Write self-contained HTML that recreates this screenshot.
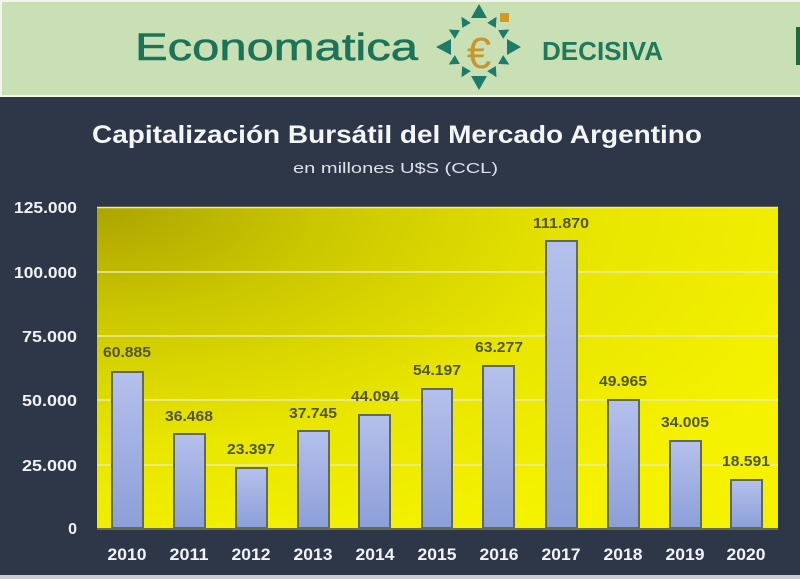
<!DOCTYPE html>
<html><head><meta charset="utf-8"><style>
html,body{margin:0;padding:0;background:#2e3748;}
svg{display:block;}
</style></head><body>
<svg width="800" height="579" viewBox="0 0 800 579" xmlns="http://www.w3.org/2000/svg" font-family="'Liberation Sans', sans-serif">
<defs>
<radialGradient id="pg" cx="0" cy="0" r="1.15" fx="0" fy="0">
<stop offset="0" stop-color="#aba500"/>
<stop offset="0.3" stop-color="#ccc800"/>
<stop offset="0.65" stop-color="#e9e600"/>
<stop offset="1" stop-color="#f5f200"/>
</radialGradient>
<linearGradient id="bg" x1="0" y1="0" x2="0" y2="1">
<stop offset="0" stop-color="#b5c0ec"/>
<stop offset="1" stop-color="#8c9fd9"/>
</linearGradient>
</defs>
<!-- banner -->
<rect x="0" y="0" width="800" height="97" fill="#f2f5ee"/>
<rect x="2" y="2" width="798" height="93" fill="#c8e0b3"/>
<rect x="796" y="27" width="4" height="38" fill="#1f6a3a"/>
<text x="135" y="60" font-size="38" fill="#1b7358" stroke="#1b7358" stroke-width="0.6" textLength="283" lengthAdjust="spacingAndGlyphs">Economatica</text>
<text x="542" y="60" font-size="26" font-weight="bold" fill="#1f7a5c" textLength="121" lengthAdjust="spacingAndGlyphs">DECISIVA</text>
<!-- logo -->
<g fill="#1e7a6a">
<polygon points="471,18 487,18 479,4"/>
<polygon points="471,76 487,76 479,90"/>
<polygon points="451,39 451,55 436,47"/>
<polygon points="507,39 507,55 521,47"/>
<g transform="translate(479,47)">
<polygon points="-5,-25 5,-25 0,-35" transform="rotate(30)"/>
<polygon points="-5,-25 5,-25 0,-35" transform="rotate(60)"/>
<polygon points="-5,-25 5,-25 0,-35" transform="rotate(120)"/>
<polygon points="-5,-25 5,-25 0,-35" transform="rotate(150)"/>
<polygon points="-5,-25 5,-25 0,-35" transform="rotate(210)"/>
<polygon points="-5,-25 5,-25 0,-35" transform="rotate(240)"/>
<polygon points="-5,-25 5,-25 0,-35" transform="rotate(300)"/>
<polygon points="-5,-25 5,-25 0,-35" transform="rotate(330)"/>
</g>
</g>
<rect x="500" y="13" width="9" height="9" fill="#d39a22"/>
<text x="479" y="68" font-size="44" fill="#c8962a" text-anchor="middle" font-family="'Liberation Sans', sans-serif">€</text>
<!-- dark area -->
<rect x="0" y="97" width="800" height="478" fill="#2e3748"/>
<rect x="0" y="575" width="800" height="4" fill="#c9ccd2"/>
<text x="92" y="143" font-size="25" font-weight="bold" fill="#f4f5f7" textLength="610" lengthAdjust="spacingAndGlyphs">Capitalización Bursátil del Mercado Argentino</text>
<text x="293" y="173" font-size="15" fill="#dde1e8" textLength="205" lengthAdjust="spacingAndGlyphs">en millones U$S (CCL)</text>
<!-- plot -->
<rect x="97" y="207" width="681" height="321" fill="url(#pg)"/>
<g stroke="#ecec9a" stroke-width="1.5">
<line x1="97" y1="207.5" x2="778" y2="207.5"/>
<line x1="97" y1="272" x2="778" y2="272"/>
<line x1="97" y1="336" x2="778" y2="336"/>
<line x1="97" y1="400" x2="778" y2="400"/>
<line x1="97" y1="465" x2="778" y2="465"/>
</g>
<line x1="97" y1="529" x2="778" y2="529" stroke="#6b6e4a" stroke-width="2"/>
<!-- y labels -->
<g font-size="16" font-weight="bold" fill="#f0f2f5" text-anchor="end">
<text x="77" y="213" textLength="63" lengthAdjust="spacingAndGlyphs">125.000</text>
<text x="77" y="278" textLength="63" lengthAdjust="spacingAndGlyphs">100.000</text>
<text x="77" y="342" textLength="55" lengthAdjust="spacingAndGlyphs">75.000</text>
<text x="77" y="406" textLength="55" lengthAdjust="spacingAndGlyphs">50.000</text>
<text x="77" y="471" textLength="55" lengthAdjust="spacingAndGlyphs">25.000</text>
<text x="77" y="534">0</text>
</g>
<!-- bars -->
<g fill="url(#bg)" stroke="#5f6a58" stroke-width="2">
<rect x="112" y="372" width="31" height="156"/>
<rect x="174" y="434" width="31" height="94"/>
<rect x="236" y="468" width="31" height="60"/>
<rect x="298" y="431" width="31" height="97"/>
<rect x="359" y="415" width="31" height="113"/>
<rect x="422" y="389" width="30" height="139"/>
<rect x="483" y="366" width="31" height="162"/>
<rect x="546" y="241" width="31" height="287"/>
<rect x="608" y="400" width="31" height="128"/>
<rect x="670" y="441" width="31" height="87"/>
<rect x="731" y="480" width="31" height="48"/>
</g>
<!-- value labels -->
<g font-size="15" font-weight="bold" fill="#525630" text-anchor="middle">
<text x="127" y="357" textLength="48" lengthAdjust="spacingAndGlyphs">60.885</text>
<text x="189" y="421" textLength="48" lengthAdjust="spacingAndGlyphs">36.468</text>
<text x="251" y="454" textLength="48" lengthAdjust="spacingAndGlyphs">23.397</text>
<text x="313" y="418" textLength="48" lengthAdjust="spacingAndGlyphs">37.745</text>
<text x="375" y="401" textLength="48" lengthAdjust="spacingAndGlyphs">44.094</text>
<text x="437" y="375" textLength="48" lengthAdjust="spacingAndGlyphs">54.197</text>
<text x="499" y="352" textLength="48" lengthAdjust="spacingAndGlyphs">63.277</text>
<text x="561" y="228" textLength="56" lengthAdjust="spacingAndGlyphs">111.870</text>
<text x="623" y="386" textLength="48" lengthAdjust="spacingAndGlyphs">49.965</text>
<text x="685" y="427" textLength="48" lengthAdjust="spacingAndGlyphs">34.005</text>
<text x="746" y="466" textLength="48" lengthAdjust="spacingAndGlyphs">18.591</text>
</g>
<!-- x labels -->
<g font-size="17" font-weight="bold" fill="#f0f2f5" text-anchor="middle">
<text x="127" y="560" textLength="39" lengthAdjust="spacingAndGlyphs">2010</text>
<text x="189" y="560" textLength="39" lengthAdjust="spacingAndGlyphs">2011</text>
<text x="251" y="560" textLength="39" lengthAdjust="spacingAndGlyphs">2012</text>
<text x="313" y="560" textLength="39" lengthAdjust="spacingAndGlyphs">2013</text>
<text x="375" y="560" textLength="39" lengthAdjust="spacingAndGlyphs">2014</text>
<text x="437" y="560" textLength="39" lengthAdjust="spacingAndGlyphs">2015</text>
<text x="499" y="560" textLength="39" lengthAdjust="spacingAndGlyphs">2016</text>
<text x="561" y="560" textLength="39" lengthAdjust="spacingAndGlyphs">2017</text>
<text x="623" y="560" textLength="39" lengthAdjust="spacingAndGlyphs">2018</text>
<text x="685" y="560" textLength="39" lengthAdjust="spacingAndGlyphs">2019</text>
<text x="746" y="560" textLength="39" lengthAdjust="spacingAndGlyphs">2020</text>
</g>
</svg>
</body></html>
